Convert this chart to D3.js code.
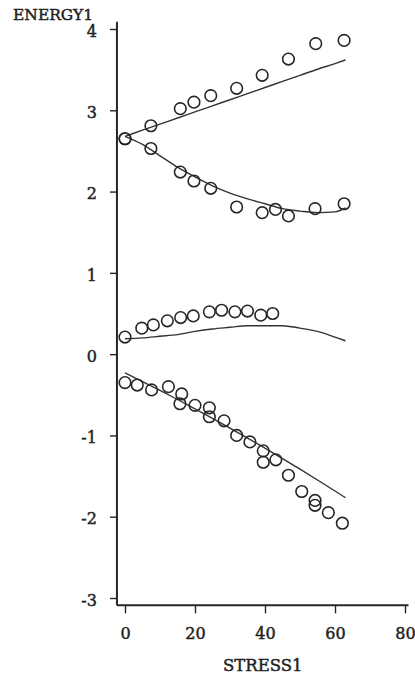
<!DOCTYPE html>
<html>
<head>
<meta charset="utf-8">
<script src="https://cdn.jsdelivr.net/npm/d3@7"></script>
<style>
  html, body { margin: 0; padding: 0; background: #fff; }
  svg text { font-family: "DejaVu Serif", serif; fill: #222; stroke: #222; stroke-width: 0.45px; }
</style>
</head>
<body>
<svg id="chart" width="415" height="679"></svg>
<script>
// Observed points, four groups
const s1x = [0, 7.4, 15.8, 19.7, 24.5, 31.9, 39.2, 46.7, 54.5, 62.6];
const s1y = [2.65, 2.81, 3.02, 3.10, 3.18, 3.27, 3.43, 3.63, 3.82, 3.86];

const s2x = [0, 7.4, 15.8, 19.7, 24.5, 31.9, 39.2, 43.0, 46.7, 54.3, 62.6];
const s2y = [2.65, 2.53, 2.24, 2.13, 2.04, 1.81, 1.74, 1.78, 1.70, 1.79, 1.85];

const s3x = [0, 4.8, 8.1, 12.1, 15.9, 19.5, 24.1, 27.6, 31.4, 35.0, 38.8, 42.2];
const s3y = [0.21, 0.32, 0.36, 0.41, 0.45, 0.47, 0.52, 0.54, 0.52, 0.53, 0.48, 0.50];

const s4x = [0, 3.5, 7.6, 12.4, 16.2, 15.7, 20.0, 24.1, 24.1, 28.3, 31.9, 35.7, 39.5, 39.5, 43.1, 46.7, 50.5, 54.3, 54.3, 58.1, 62.1];
const s4y = [-0.35, -0.38, -0.44, -0.40, -0.49, -0.61, -0.63, -0.66, -0.77, -0.82, -1.00, -1.08, -1.19, -1.33, -1.30, -1.49, -1.69, -1.80, -1.86, -1.95, -2.08];

// Fitted curves
const fitX  = [0, 5, 10, 15, 20, 25, 30, 35, 40, 45, 50, 55, 60, 63];
const fit1y = [2.68, 2.755, 2.83, 2.905, 2.98, 3.055, 3.13, 3.205, 3.28, 3.355, 3.43, 3.505, 3.575, 3.62];
const fit2y = [2.68, 2.58, 2.44, 2.30, 2.18, 2.07, 1.98, 1.91, 1.85, 1.79, 1.76, 1.74, 1.75, 1.80];
const fit3y = [0.19, 0.20, 0.22, 0.24, 0.28, 0.31, 0.33, 0.35, 0.35, 0.35, 0.32, 0.28, 0.21, 0.165];
const fit4y = [-0.23, -0.337, -0.446, -0.558, -0.672, -0.789, -0.909, -1.032, -1.157, -1.285, -1.415, -1.548, -1.684, -1.767];

// Axis ticks
const xMajor = [0, 20, 40, 60, 80];
const xMinor = d3.range(0, 81, 2);
const yMajor = [-3, -2, -1, 0, 1, 2, 3, 4];
const yMinor = d3.range(-3, 4.001, 0.2);

const svg = d3.select("#chart");
const ink = "#262626";
const fmt = d => String(d); // plain hyphen for negatives

const x = d3.scaleLinear().domain([0, 80]).range([125, 405]);
const y = d3.scaleLinear().domain([-3, 4]).range([598, 29]);

const x0 = x(-2.3);     // vertical axis position
const yBase = y(-3.09); // horizontal axis position

// Y axis: minor and major ticks
const gy = svg.append("g").attr("transform", `translate(${x0},0)`);
gy.call(d3.axisLeft(y).tickValues(yMinor).tickSize(4).tickFormat(""));
gy.call(d3.axisLeft(y).tickValues(yMajor).tickSize(7).tickPadding(13).tickFormat(fmt));
gy.selectAll(".domain").remove();
gy.selectAll("line").attr("stroke", ink).attr("stroke-width", 1.4);
gy.selectAll("text").attr("font-size", 16).attr("font-family", "DejaVu Serif")
  .attr("fill", ink).attr("dy", "0.45em");

// X axis: minor and major ticks
const gx = svg.append("g").attr("transform", `translate(0,${yBase})`);
gx.call(d3.axisBottom(x).tickValues(xMinor).tickSize(4).tickFormat(""));
gx.call(d3.axisBottom(x).tickValues(xMajor).tickSize(8).tickPadding(14).tickFormat(fmt));
gx.selectAll(".domain").remove();
gx.selectAll("line").attr("stroke", ink).attr("stroke-width", 1.4);
gx.selectAll("text").attr("font-size", 16).attr("font-family", "DejaVu Serif").attr("fill", ink);

// Axis lines
svg.append("line").attr("x1", x0).attr("x2", x0).attr("y1", y(4.09)).attr("y2", yBase)
  .attr("stroke", ink).attr("stroke-width", 2);
svg.append("line").attr("x1", x0).attr("x2", x(81)).attr("y1", yBase).attr("y2", yBase)
  .attr("stroke", ink).attr("stroke-width", 2);

// Axis titles
svg.append("text").attr("x", 13).attr("y", 20).attr("font-size", 15.5).text("ENERGY1");
svg.append("text").attr("x", (x0 + x(81)) / 2).attr("y", 671).attr("font-size", 16.5)
  .attr("text-anchor", "middle").text("STRESS1");

// Fitted lines
const line = d3.line().x(d => x(d[0])).y(d => y(d[1])).curve(d3.curveMonotoneX);
[fit1y, fit2y, fit3y, fit4y].forEach(fy => {
  svg.append("path")
    .datum(fitX.map((v, i) => [v, fy[i]]))
    .attr("d", line)
    .attr("fill", "none")
    .attr("stroke", "#333")
    .attr("stroke-width", 1.4);
});

// Observed points as open circles
[[s1x, s1y], [s2x, s2y], [s3x, s3y], [s4x, s4y]].forEach(([xs, ys]) => {
  svg.append("g").selectAll("circle")
    .data(xs.map((v, i) => [v, ys[i]]))
    .join("circle")
    .attr("cx", d => x(d[0]))
    .attr("cy", d => y(d[1]))
    .attr("r", 5.8)
    .attr("fill", "none")
    .attr("stroke", ink)
    .attr("stroke-width", 1.6);
});
</script>
</body>
</html>
